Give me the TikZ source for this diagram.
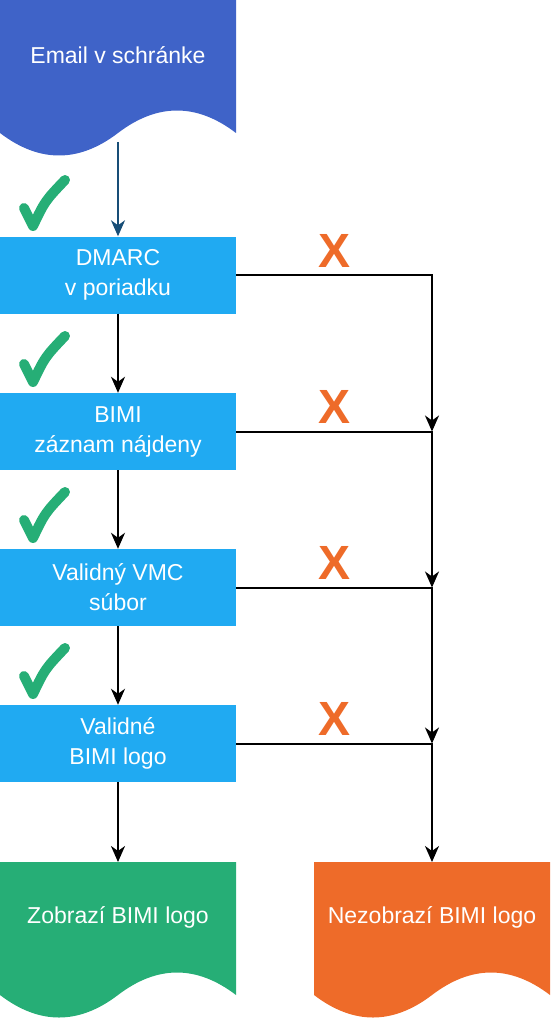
\documentclass[tikz,border=0pt]{standalone}
\usepackage{fontspec}
\setmainfont{Liberation Sans}
\usetikzlibrary{arrows.meta}
\definecolor{docblue}{RGB}{63,99,200}
\definecolor{boxblue}{RGB}{32,170,242}
\definecolor{okgreen}{RGB}{38,174,118}
\definecolor{failorange}{RGB}{238,107,41}
\definecolor{topline}{RGB}{24,78,119}
\tikzset{
  docshape/.pic={
    \fill[pic actions] (0,0) -- (236,0) -- (236,133)
      .. controls (196.7,103) and (157.3,103) .. (118,133)
      .. controls (78.7,163) and (39.3,163) .. (0,133) -- cycle;
  },
  box/.style={rectangle, fill=boxblue, minimum width=236pt, minimum height=77pt,
    inner sep=0pt, text=white, align=center, font=\fontsize{23}{30}\selectfont},
  doctext/.style={text=white, inner sep=0pt, font=\fontsize{23}{30}\selectfont},
  xmark/.style={text=failorange, inner sep=0pt, font=\fontsize{48}{48}\selectfont\bfseries},
  checkmark/.style={draw=okgreen, line width=10pt, line cap=round, line join=round},
  arr/.style={draw=black, line width=2pt, -{Stealth[length=16pt,width=14pt,inset=5pt]}},
}
\begin{document}
\begin{tikzpicture}[x=1pt,y=-1pt]
\useasboundingbox (0,0) rectangle (554,1024);
% documents
\pic[fill=docblue] at (0,0) {docshape};
\pic[fill=okgreen] at (0,862) {docshape};
\pic[fill=failorange] at (314,862) {docshape};
\node[doctext] (email) at (118,55) {Email v schránke};
\node[doctext] (zob) at (118,917) {Zobrazí BIMI logo};
\node[doctext] (nezob) at (432,917) {Nezobrazí BIMI logo};
\coordinate (emailbot) at (118,142);
\coordinate (zobtop) at (118,862);
\coordinate (nezobtop) at (432,862);
% boxes
\node[box] (dmarc) at (118,275) {DMARC\\v poriadku};
\node[box] (bimi) at (118,431.5) {BIMI\\záznam nájdeny};
\node[box] (vmc) at (118,587.5) {Validný VMC\\súbor};
\node[box] (logo) at (118,743.5) {Validné\\BIMI logo};
% junctions
\coordinate (j2) at (432,431.5);
\coordinate (j3) at (432,587.5);
\coordinate (j4) at (432,743.5);
% connectors
\draw[arr, draw=topline, color=topline] (emailbot) -- (dmarc.north);
\draw[arr] (dmarc.south) -- (bimi.north);
\draw[arr] (bimi.south) -- (vmc.north);
\draw[arr] (vmc.south) -- (logo.north);
\draw[arr] (logo.south) -- (zobtop);
\draw[arr] (dmarc.east) -| (j2);
\draw[arr] (bimi.east) -| (j3);
\draw[arr] (vmc.east) -| (j4);
\draw[arr] (logo.east) -| (nezobtop);
% X marks
\node[xmark] (x1) at (335,251) {X};
\node[xmark] (x2) at (335,407) {X};
\node[xmark] (x3) at (335,563) {X};
\node[xmark] (x4) at (335,719) {X};
% check marks
\foreach \t in {237,393,549,705}{
  \draw[checkmark] (24,\t-29) -- (33,\t-11) .. controls (45,\t-36) .. (65,\t-57);
}
\end{tikzpicture}
\end{document}
